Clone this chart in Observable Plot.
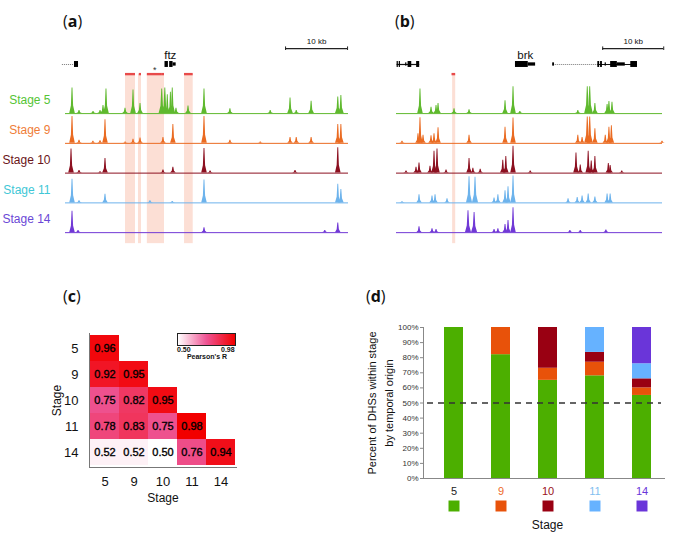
<!DOCTYPE html>
<html><head><meta charset="utf-8">
<script src="https://cdn.jsdelivr.net/npm/d3@7"></script>
<script src="https://cdn.jsdelivr.net/npm/@observablehq/plot@0.6"></script>
<style>
body{margin:0;background:#fff;font-family:"Liberation Sans",Arial,sans-serif;}
#fig{position:relative;width:685px;height:537px;overflow:hidden;background:#fff;}
.pane{position:absolute;}
.letter{position:absolute;font-size:16px;line-height:16px;color:#111;font-family:"Open Sans","Liberation Sans",sans-serif;}
.letter b{font-weight:700;}
.leg{position:absolute;font-size:7px;font-weight:bold;color:#111;line-height:7px;white-space:nowrap;}
</style></head><body><div id="fig"></div>
<script>
// ---------- shared ----------
const stages = ["5", "9", "10", "11", "14"];
const trackFill = ["#5fb92e", "#ea6b22", "#8c1020", "#6db3ec", "#7139d6"];
const labelColor = ["#55c435", "#ef7d38", "#6a1418", "#3fc7d6", "#6a48d6"];

// ---------- panel (a): ftz locus, peaks [position kb, relative signal, half-width kb] ----------
const ftzStage5 = [[1.13,96],[2.26,12],[4.52,8],[5.65,12],[6.13,30],[6.61,92],[9.68,20],[10.97,88],[12.1,38],[15.6,92,0.5],[16.1,96,0.5],[16.5,70,0.4],[17.0,80,0.4],[17.3,96],[17.9,20],[19.84,28],[22.42,92],[26.6,18],[33.1,12],[36.3,58],[37.3,12],[39.7,46],[44.0,62],[44.5,68]];
const ftzStage9 = [[1.13,100],[2.26,12],[4.5,8],[5.65,10],[6.45,88],[9.7,5],[10.97,15],[12.1,20],[15.8,22],[17.4,70],[22.42,100],[26.6,12],[31.5,5],[36.3,22],[37.3,22],[39.7,22],[44.0,70],[44.5,70]];
const ftzStage10 = [[0.97,90],[2.26,10],[5.65,5],[6.45,55],[15.8,12],[17.4,22],[22.42,92],[23.4,8],[37.1,10],[44.0,95]];
const ftzStage11 = [[1.13,88],[2.26,8],[6.45,32],[13.7,8],[17.3,5],[22.42,85],[44.0,70],[44.5,50]];
const ftzStage14 = [[1.13,80],[2.1,8],[22.42,18],[41.9,8],[44.0,36]];
const ftzBands = [[9.68,11.29],[11.77,12.26],[13.2,15.97],[19.2,20.6]];
const ftzRedBars = [[9.68,11.29],[11.9,12.26],[13.2,15.5],[15.5,15.97],[19.2,20.6]];
const ftzGeneDotted = [[-0.5,1.45]];
const ftzGeneSolid = [];
const ftzGeneBlocks = [[1.45,2.1,"exon"],[16.05,16.6,"exon"],[16.8,17.35,"exon"],[17.35,17.85,"utr"]];

// ---------- panel (b): brk locus ----------
const brkStage5 = [[3.93,92],[5.74,24],[6.56,30],[6.89,38],[9.51,18],[11.97,14],[17.87,48],[19.18,100],[20.3,8],[29.8,12],[31.35,100,0.5],[31.75,100,0.5],[32.6,38],[34.6,34],[34.9,45],[35.4,42]];
const brkStage9 = [[0.98,8],[3.6,36],[3.93,96],[4.43,30],[5.74,28],[6.23,36],[6.89,58],[11.97,30],[17.87,60],[19.18,95],[29.8,30],[30.5,22],[31.35,98,0.5],[31.75,98,0.5],[32.6,55],[34.3,30],[34.9,60],[35.3,66],[43.6,8]];
const brkStage10 = [[1.64,8],[3.28,22],[3.77,38],[5.57,26],[6.23,82],[6.72,90],[8.2,12],[11.97,55],[12.6,18],[13.8,14],[17.5,48],[18.0,62],[19.18,100],[22.0,8],[29.5,75],[30.2,30],[31.5,82],[32.0,45],[32.6,62],[34.8,36],[35.1,28],[37.0,8]];
const brkStage11 = [[0.98,4],[3.77,30],[5.9,26],[6.4,30],[8.36,15],[11.97,98,0.5],[12.95,96,0.5],[16.07,18],[16.7,30],[17.87,45],[18.36,60],[19.18,100],[28.2,15],[29.7,20],[30.5,26],[31.5,33],[32.6,22],[34.6,33],[35.1,33]];
const brkStage14 = [[3.77,22],[5.9,15],[6.56,12],[11.8,82,0.5],[12.8,75,0.5],[16.07,12],[16.7,15],[17.87,30],[18.36,45],[19.18,93],[28.5,8],[30.2,8],[34.4,10]];
const brkBands = [[9.2,9.7]];
const brkRedBars = [[9.1,9.7]];
const brkGeneDotted = [[25.7,32.95]];
const brkGeneSolid = [[0.1,3.8],[33.0,39.5]];
const brkGeneBlocks = [[0.1,0.3,"exon"],[0.45,0.65,"exon"],[1.5,1.7,"utr"],[1.9,2.5,"exon"],[3.3,3.8,"exon"],[19.5,21.6,"exon"],[21.6,22.8,"utr"],[25.6,25.9,"utr"],[33.0,33.3,"exon"],[33.45,33.75,"exon"],[34.2,34.4,"utr"],[35.1,36.2,"exon"],[36.2,37.5,"utr"],[38.4,39.5,"exon"]];

// ---------- panel (c): Pearson correlation ----------
const corrRow = ["5","9","9","10","10","10","11","11","11","11","14","14","14","14","14"];
const corrCol = ["5","5","9","5","9","10","5","9","10","11","5","9","10","11","14"];
const corrR   = [0.96,0.92,0.95,0.75,0.82,0.95,0.78,0.83,0.75,0.98,0.52,0.52,0.50,0.76,0.94];

// ---------- panel (d): DHS temporal origin (%) ----------
const originStages = ["5","9","10","11","14"];
const originColors = ["#4caf00","#e8520a","#990012","#66b2ff","#6a35d9"];
const tickColors = ["#222222","#ee6a2a","#9a1020","#82c0f0","#6a35d9"];
const fromStage5  = [100, 82, 65, 68, 55];
const fromStage9  = [0, 18, 8, 9, 5];
const fromStage10 = [0, 0, 27, 6.5, 6];
const fromStage11 = [0, 0, 0, 16.5, 10];
const fromStage14 = [0, 0, 0, 0, 24];

const fig = document.getElementById("fig");
function place(node, left, top) {
  const d = document.createElement("div");
  d.className = "pane"; d.style.left = left + "px"; d.style.top = top + "px";
  d.appendChild(node); fig.appendChild(d);
}
function letter(ch, left, top) {
  const d = document.createElement("div");
  d.className = "letter"; d.style.left = left + "px"; d.style.top = top + "px";
  d.innerHTML = "(<b>" + ch + "</b>)";
  fig.appendChild(d);
}

// ---------- track panel builder ----------
const geneY = 1.65;
function trackPanel(cfg) {
  const shapes = [];
  cfg.tracks.forEach((list, i) => list.forEach((p, j) => {
    const [x, h, w = 0.45] = p;
    const id = i + "-" + j;
    [[x - w, 0], [x - w * 0.4, h * 0.3], [x - 0.07, h], [x + 0.07, h], [x + w * 0.4, h * 0.3], [x + w, 0]]
      .forEach(([vx, vh]) => shapes.push({id, track: i, x: vx, v: vh}));
  }));
  const half = t => t === "exon" ? 0.1 : 0.055;
  const marks = [
    Plot.rectX(cfg.bands, {x1: d => d[0], x2: d => d[1], y1: -4.37, y2: 1.31, fill: "#fcdcd0", fillOpacity: 0.9}),
    Plot.ruleY(stages, {y: (d, i) => -i, stroke: (d, i) => trackFill[i], strokeWidth: 1}),
    Plot.areaY(shapes, {x: "x", y1: d => -d.track, y2: d => -d.track + d.v * 0.009, z: "id", fill: d => trackFill[d.track], curve: "linear"}),
    Plot.rectX(cfg.redBars, {x1: d => d[0], x2: d => d[1], y1: 1.27, y2: 1.35, fill: "#e84a4a"}),
    Plot.ruleY(cfg.geneDotted, {y: geneY, x1: d => d[0], x2: d => d[1], stroke: "#777", strokeWidth: 1, strokeDasharray: "1,1"}),
    Plot.ruleY(cfg.geneSolid, {y: geneY, x1: d => d[0], x2: d => d[1], stroke: "#111", strokeWidth: 1.2}),
    Plot.rectX(cfg.geneBlocks, {x1: d => d[0], x2: d => d[1], y1: d => geneY - half(d[2]), y2: d => geneY + half(d[2]), fill: "#000"}),
    Plot.text([cfg.geneName], {x: cfg.geneNameX, y: 1.97, fontSize: 11.5, fill: "#111"}),
    Plot.ruleY([cfg.scaleStart], {y: 2.18, x1: d => d, x2: d => d + 10, stroke: "#222", strokeWidth: 1.2}),
    Plot.ruleX([cfg.scaleStart, cfg.scaleStart + 10], {x: d => d, y1: 2.12, y2: 2.24, stroke: "#222", strokeWidth: 1}),
    Plot.text(["10 kb"], {x: cfg.scaleStart + 5, y: 2.41, fontSize: 8, fill: "#111"})
  ];
  if (cfg.asterisk != null) marks.push(Plot.text(["*"], {x: cfg.asterisk, y: 1.47, fontSize: 9, fill: "#333"}));
  if (cfg.labels) marks.push(Plot.text(stages, {x: 0, y: (d, i) => -i + 0.44, text: d => "Stage " + d, textAnchor: "end", dx: -15, fill: (d, i) => labelColor[i], fontSize: 12}));
  return Plot.plot({
    width: cfg.width, height: 250,
    marginLeft: cfg.marginLeft, marginRight: cfg.marginRight, marginTop: 0, marginBottom: 0,
    x: {domain: cfg.domain, axis: null},
    y: {domain: [-4.6, 3.8], axis: null},
    color: {type: "identity"},
    style: {background: "transparent", fontFamily: "Liberation Sans, Arial, sans-serif"},
    marks
  });
}

place(trackPanel({
  tracks: [ftzStage5, ftzStage9, ftzStage10, ftzStage11, ftzStage14],
  bands: ftzBands, redBars: ftzRedBars, geneDotted: ftzGeneDotted, geneSolid: ftzGeneSolid, geneBlocks: ftzGeneBlocks,
  geneName: "ftz", geneNameX: 16.9, scaleStart: 35.5, asterisk: 14.4, labels: true,
  width: 350, marginLeft: 65, marginRight: 2, domain: [0, 45.65]
}), 0, 0);

place(trackPanel({
  tracks: [brkStage5, brkStage9, brkStage10, brkStage11, brkStage14],
  bands: brkBands, redBars: brkRedBars, geneDotted: brkGeneDotted, geneSolid: brkGeneSolid, geneBlocks: brkGeneBlocks,
  geneName: "brk", geneNameX: 21.1, scaleStart: 33.8, asterisk: null, labels: false,
  width: 345, marginLeft: 56, marginRight: 23, domain: [0, 43.6]
}), 340, 0);

// ---------- panel (c) ----------
const corr = corrR.map((r, i) => ({row: corrRow[i], col: corrCol[i], r}));
const heatDomain = [0.5, 0.74, 0.98];
const heatRange = ["#ffffff", "#ee5494", "#f20000"];
const heat = Plot.plot({
  width: 300, height: 210,
  marginTop: 33, marginBottom: 43, marginLeft: 89, marginRight: 64,
  x: {domain: stages, padding: 0, tickSize: 0, tickPadding: 9, label: null},
  y: {domain: stages, padding: 0, tickSize: 0, tickPadding: 11, label: null},
  color: {type: "linear", domain: heatDomain, range: heatRange},
  style: {background: "transparent", fontSize: "13px", fontFamily: "Liberation Sans, Arial, sans-serif", color: "#111"},
  marks: [
    Plot.cell(corr, {x: "col", y: "row", fill: "r"}),
    Plot.text(corr, {x: "col", y: "row", text: d => d.r.toFixed(2), fontSize: 11, fill: "#000", stroke: "#000", strokeWidth: 0.35}),
    Plot.frame({anchor: "left", stroke: "#777"}),
    Plot.frame({anchor: "bottom", stroke: "#777"}),
    Plot.text(["Stage"], {frameAnchor: "bottom", dy: 31, textAnchor: "middle", lineAnchor: "middle", fontSize: 12, fill: "#111"}),
    Plot.text(["Stage"], {frameAnchor: "left", dx: -32, rotate: -90, textAnchor: "middle", lineAnchor: "middle", fontSize: 12, fill: "#111"})
  ]
});
place(heat, 0, 300);

// legend for (c)
const cscale = d3.scaleLinear().domain(heatDomain).range(heatRange);
const stops = d3.range(0, 1.0001, 0.1).map(t => cscale(0.5 + t * 0.48) + " " + (t * 100) + "%").join(",");
const bar = document.createElement("div");
bar.style.cssText = `position:absolute;left:177px;top:333px;width:57px;height:11px;border:1px solid #222;background:linear-gradient(to right,${stops});`;
fig.appendChild(bar);
[["0.50", 177, 346, "left"], ["0.98", 236, 346, "right"], ["Pearson's R", 207, 353, "center"]].forEach(([t, x, y, a]) => {
  const d = document.createElement("div");
  d.className = "leg"; d.textContent = t; d.style.top = y + "px";
  if (a === "left") d.style.left = x + "px";
  else if (a === "right") d.style.left = (x - 15) + "px";
  else { d.style.left = (x - 30) + "px"; d.style.width = "60px"; d.style.textAlign = "center"; }
  fig.appendChild(d);
});

// ---------- panel (d) ----------
const originSeries = [fromStage5, fromStage9, fromStage10, fromStage11, fromStage14];
const comp = [];
originStages.forEach((o, k) => stages.forEach((s, i) => comp.push({stage: s, origin: o, pct: originSeries[k][i]})));
const bars = Plot.plot({
  width: 335, height: 257,
  marginTop: 47, marginBottom: 59, marginLeft: 73, marginRight: 14,
  x: {domain: stages, paddingInner: 0.6, paddingOuter: 0.42, axis: null},
  y: {domain: [0, 100], axis: null},
  color: {domain: originStages, range: originColors},
  style: {background: "transparent", fontFamily: "Liberation Sans, Arial, sans-serif", color: "#111"},
  marks: [
    Plot.barY(comp, {x: "stage", y: "pct", fill: "origin"}),
    Plot.axisY({ticks: d3.range(0, 101, 10), tickFormat: d => d + "%", tickSize: 3, tickPadding: 2, fontSize: 8, stroke: "#888", fill: "#333", label: null}),
    Plot.frame({anchor: "left", stroke: "#888"}),
    Plot.ruleY([0], {stroke: "#888", insetRight: 6}),
    Plot.ruleY([50], {stroke: "#333", strokeWidth: 1.6, strokeDasharray: "6,5", insetLeft: 4, insetRight: 10}),
    ...stages.map((s, i) => Plot.text([s], {x: d => d, frameAnchor: "bottom", dy: 13, lineAnchor: "middle", fill: tickColors[i], fontSize: 11})),
    Plot.dot(stages, {x: d => d, frameAnchor: "bottom", dy: 27.5, symbol: "square", r: 6.2, fill: d => d}),
    Plot.text(["Stage"], {frameAnchor: "bottom", dy: 47, lineAnchor: "middle", fontSize: 12, fill: "#111"}),
    Plot.text(["Percent of DHSs within stage\nby temporal origin"], {frameAnchor: "left", dx: -44.5, rotate: -90, textAnchor: "middle", lineAnchor: "middle", fontSize: 11, lineHeight: 1.5, fill: "#111"})
  ]
});
place(bars, 350, 280);

letter("a", 63, 13);
letter("b", 395, 13);
letter("c", 63, 288);
letter("d", 366, 288);
</script></body></html>
